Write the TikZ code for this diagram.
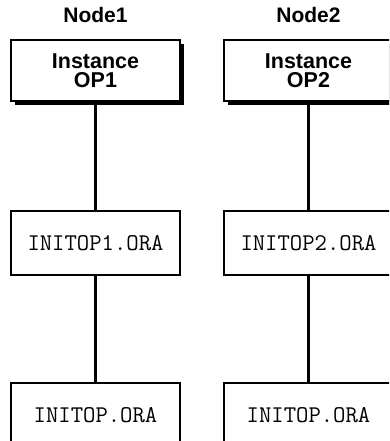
\documentclass[tikz,border=0pt]{standalone}
\usepackage{fontspec}
\setsansfont{Liberation Sans}
\usetikzlibrary{positioning,shadows}

\begin{document}
\begin{tikzpicture}[x=1pt, y=1pt,
    instbox/.style={draw=black, fill=white, line width=2pt,
        minimum width=169pt, minimum height=61pt, align=center,
        font=\fontsize{21.5}{19.5}\selectfont\sffamily\bfseries,
        drop shadow={shadow xshift=4pt, shadow yshift=-4pt,
                     fill=black, opacity=1}},
    filebox/.style={draw=black, fill=white, line width=1.8pt,
        minimum width=169pt, minimum height=64pt,
        font=\fontsize{24}{26}\selectfont\ttfamily},
    hostlabel/.style={inner sep=0pt,
        font=\fontsize{21}{24}\selectfont\sffamily\bfseries},
    link/.style={line width=2.4pt}]

  %% Page frame (the lower boxes run off the edge)
  \fill[white] (0,0) rectangle (389,-441);
  \clip (0,0) rectangle (389,-441);

  %% Instance nodes
  \node[instbox] (inst1) at (95.5,-70.5) {Instance\\OP1};
  \node[instbox, right=42pt of inst1] (inst2) {Instance\\OP2};

  %% Host labels
  \node[hostlabel, above=16pt of inst1] (host1) {Node1};
  \node[hostlabel, above=16pt of inst2] (host2) {Node2};

  %% Instance parameter files
  \node[filebox, below=108pt of inst1] (ini1) {INITOP1.ORA};
  \node[filebox, below=108pt of inst2] (ini2) {INITOP2.ORA};

  %% Common parameter files
  \node[filebox, below=106pt of ini1] (com1) {INITOP.ORA};
  \node[filebox, below=106pt of ini2] (com2) {INITOP.ORA};

  %% Links
  \draw[link] (inst1) -- (ini1);
  \draw[link] (ini1) -- (com1);
  \draw[link] (inst2) -- (ini2);
  \draw[link] (ini2) -- (com2);

\end{tikzpicture}
\end{document}
